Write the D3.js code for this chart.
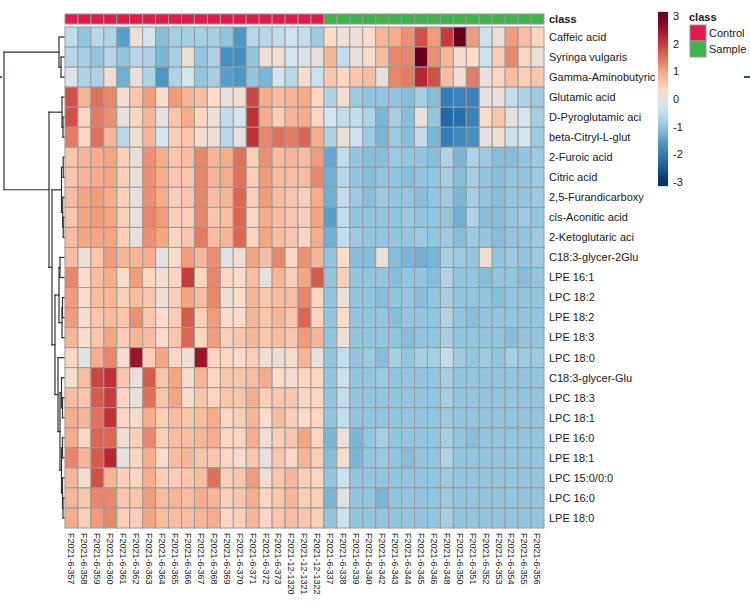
<!DOCTYPE html>
<html>
<head>
<meta charset="utf-8">
<title>Heatmap</title>
<script src="https://d3js.org/d3.v7.min.js"></script>
<style>
  body { margin: 0; background: white; }
  text { font-family: "Liberation Sans", Arial, sans-serif; fill: #1a1a1a; }
</style>
</head>
<body>
<div id="plot"></div>
<script>
// rows (metabolites) in dendrogram order
var rowNames = ['Caffeic acid','Syringa vulgaris','Gamma-Aminobutyric','Glutamic acid','D-Pyroglutamic aci',
  'beta-Citryl-L-glut','2-Furoic acid','Citric acid','2,5-Furandicarboxy','cis-Aconitic acid',
  '2-Ketoglutaric aci','C18:3-glycer-2Glu','LPE 16:1','LPC 18:2','LPE 18:2','LPE 18:3','LPC 18:0',
  'C18:3-glycer-Glu','LPC 18:3','LPC 18:1','LPE 16:0','LPE 18:1','LPC 15:0/0:0','LPC 16:0','LPE 18:0']

var colNames = ['F2021-6-357','F2021-6-358','F2021-6-359','F2021-6-360','F2021-6-361','F2021-6-362',
  'F2021-6-363','F2021-6-364','F2021-6-365','F2021-6-366','F2021-6-367','F2021-6-368','F2021-6-369',
  'F2021-6-370','F2021-6-371','F2021-6-372','F2021-6-373','F2021-12-1320','F2021-12-1321','F2021-12-1322',
  'F2021-6-337','F2021-6-338','F2021-6-339','F2021-6-340','F2021-6-342','F2021-6-343','F2021-6-344',
  'F2021-6-345','F2021-6-346','F2021-6-348','F2021-6-350','F2021-6-351','F2021-6-352','F2021-6-353',
  'F2021-6-354','F2021-6-355','F2021-6-356']

var colClass = ['Control','Control','Control','Control','Control','Control','Control','Control','Control','Control',
  'Control','Control','Control','Control','Control','Control','Control','Control','Control','Control',
  'Sample','Sample','Sample','Sample','Sample','Sample','Sample','Sample','Sample','Sample',
  'Sample','Sample','Sample','Sample','Sample','Sample','Sample']

var classNames = ['Control','Sample']
var classColors = ['#E5194B','#3BB44A']

// scaled values, one row per metabolite
var zscores = [
  [-0.5,-1.0,-0.6,-0.7,-1.5, 0.1,-0.3,-1.1,-0.8,-0.8, -0.8,-0.8,-1.0,-1.6,-0.6, -0.6,-0.5,-0.35,-0.5,-0.9, 0.3,0.1,0.1,0.3,0.8, 0.9,1.2,1.8,1.1,2.0, 3.0,1.1,-0.4,0.05,1.1, 0.7,0.4],
  [-0.6,-0.8,-1.0,-0.6,-1.0, -0.6,-0.7,-1.2,-0.8,0.1, -1.0,-0.7,-1.7,-1.7,-1.0, 0.1,0.2,-0.3,-0.2,0.0, 0.8,-0.5,0.05,0.3,0.7, 1.3,1.3,3.0,1.2,0.8, 0.2,0.3,-0.4,0.5,1.3, 0.4,0.1],
  [-0.2,-0.7,-0.7,0.15,-1.3, 0.05,-0.7,-1.6,-0.7,-0.3, -1.0,-0.8,-1.5,-1.6,-1.0, -1.2,-0.3,-0.6,0.2,-0.4, 0.6,0.4,0.6,0.7,0.0, 1.3,1.4,2.2,1.8,0.7, 0.15,1.4,0.0,0.4,0.7, 0.5,0.6],
  [1.8,0.8,1.5,1.3,0.2, 0.6,1.1,0.3,1.1,0.8, 0.7,0.3,0.05,0.2,1.9, 0.9,0.7,0.8,0.9,0.4, -0.7,0.2,-0.9,-1.0,-1.0, -1.0,-1.1,-0.8,-1.1,-2.0, -1.9,-1.9,-0.05,0.0,-0.5, -0.7,-0.9],
  [1.8,0.4,1.4,1.2,0.0, 0.4,0.8,-0.05,0.6,0.9, 0.4,0.1,-0.5,-0.3,2.1, 0.9,0.5,0.8,0.9,0.4, -0.3,-0.5,-0.5,-0.7,-1.2, -0.8,-1.1,0.0,-1.0,-2.3, -2.2,-1.9,0.3,0.6,0.0, -0.3,-0.8],
  [1.4,0.4,1.5,0.8,-0.6, 0.1,0.8,-0.3,0.5,0.6, 0.2,0.1,-0.6,0.0,2.1, 1.3,1.5,1.4,1.6,0.9, -0.7,0.05,-0.4,-0.9,-1.2, -0.9,-1.1,-0.5,-1.2,-2.0, -1.8,-1.7,-0.05,0.1,-0.4, -0.3,-0.9],
  [0.6,0.8,0.9,1.0,0.5, 0.05,1.2,0.9,0.6,0.7, 1.3,0.8,0.9,1.5,0.5, 1.2,0.7,0.8,0.7,1.1, -1.4,-0.5,-1.0,-1.1,-1.1, -0.9,-1.0,-1.0,-1.1,-0.7, -1.2,-0.7,-0.9,-1.1,-1.1, -1.0,-0.9],
  [0.6,0.8,0.9,1.0,0.5, 0.05,1.2,0.9,0.6,0.6, 1.3,0.8,0.9,1.5,0.5, 1.1,0.7,0.7,0.7,1.3, -1.3,-0.6,-1.0,-1.1,-1.0, -1.0,-1.1,-1.0,-1.0,-0.8, -1.1,-0.8,-1.0,-1.1,-1.0, -1.0,-0.9],
  [0.7,1.0,1.1,0.9,0.5, 0.0,1.2,0.9,0.5,0.6, 1.3,0.7,0.8,1.6,0.5, 1.1,0.7,0.6,0.5,0.9, -1.3,-0.5,-0.9,-1.1,-0.9, -1.0,-1.0,-1.1,-1.0,-0.9, -1.2,-0.8,-1.0,-1.1,-1.0, -1.0,-0.9],
  [0.6,1.0,1.1,1.0,0.5, 0.0,1.3,1.1,0.5,0.5, 1.3,0.6,0.7,1.6,0.4, 0.9,0.7,0.6,0.5,1.0, -1.5,-0.5,-1.0,-1.0,-1.0, -1.0,-0.9,-1.0,-1.0,-1.0, -1.3,-0.7,-1.1,-1.1,-1.0, -0.9,-1.0],
  [0.7,1.0,1.0,1.0,0.5, 0.0,1.2,1.0,0.4,0.6, 1.4,0.7,0.8,1.6,0.4, 1.0,0.7,0.6,0.4,0.9, -1.3,-0.5,-0.9,-1.0,-1.0, -1.0,-1.0,-0.9,-1.0,-0.9, -1.1,-0.9,-1.0,-1.1,-1.0, -1.0,-0.9],
  [0.7,0.1,0.6,1.1,0.8, 0.8,0.9,-0.1,0.3,1.1, 0.8,1.2,-0.1,0.15,1.0, 0.7,1.3,0.4,1.2,0.8, -1.0,0.3,-1.1,-1.1,0.0, -1.1,-1.2,-1.3,-1.2,-0.8, -0.9,-1.0,0.1,-1.0,-0.9, -1.0,-0.9],
  [1.3,0.3,0.7,0.9,0.3, 1.1,0.4,0.2,0.4,2.0, 0.4,1.3,0.4,0.3,0.7, -0.05,0.8,0.5,1.0,1.7, -1.0,0.5,-1.0,-1.0,-1.0, -1.1,-1.0,-1.0,-1.1,-0.7, -1.0,-1.0,-1.1,-1.0,-1.0, -1.1,-1.0],
  [1.1,0.3,0.7,0.8,0.5, 0.7,0.6,0.15,0.5,1.0, 0.7,1.3,0.1,0.3,0.8, 0.6,0.7,0.7,1.3,0.4, -1.0,0.0,-1.0,-1.0,-1.1, -1.0,-1.0,-1.1,-1.0,-0.8, -1.0,-1.0,-1.0,-1.1,-1.0, -1.0,-1.0],
  [1.1,0.2,0.6,0.7,0.6, 1.2,0.6,0.3,0.5,1.7, 0.5,1.1,0.3,0.3,0.8, 0.6,0.8,0.6,1.6,0.4, -1.0,0.3,-1.0,-1.0,-1.0, -1.1,-1.0,-1.0,-1.0,-0.7, -1.0,-1.1,-1.0,-1.0,-1.0, -1.0,-1.0],
  [0.8,0.3,0.6,1.0,0.5, 0.8,0.7,0.3,0.6,1.6, 0.4,1.1,0.5,0.6,0.8, 0.6,0.7,0.6,1.1,0.8, -1.0,0.1,-1.0,-1.0,-1.0, -1.0,-1.1,-1.0,-1.0,-0.8, -1.0,-1.0,-1.0,-1.0,-1.1, -1.0,-1.0],
  [0.4,-0.05,0.9,1.3,0.2, 2.5,0.5,1.0,0.4,0.15, 2.5,0.4,0.4,0.3,0.5, 0.1,0.05,0.3,0.8,0.0, -1.0,-0.5,-1.0,-0.9,-1.1, -0.8,-1.0,-0.8,-0.8,-0.5, -0.9,-1.0,-0.9,-1.0,-0.8, -0.9,-0.9],
  [0.2,0.7,1.9,2.1,0.6, 0.0,1.7,0.6,1.0,0.2, 0.8,0.4,0.6,0.6,0.7, 0.9,0.3,0.2,0.4,0.4, -1.0,-0.4,-1.0,-1.0,-0.9, -1.0,-1.0,-1.0,-1.0,-0.8, -1.0,-1.0,-1.0,-1.0,-1.0, -1.0,-1.0],
  [0.7,0.6,1.7,2.0,0.4, 0.0,1.5,0.6,1.0,0.3, 0.6,0.4,0.6,0.6,0.9, 0.5,0.6,0.6,0.4,0.4, -1.0,-0.5,-1.0,-1.0,-1.0, -1.0,-1.0,-1.0,-1.0,-0.8, -1.0,-1.0,-1.0,-1.0,-1.0, -1.0,-1.0],
  [0.9,0.8,1.5,2.1,0.4, 0.2,0.9,0.5,0.7,0.6, 0.7,0.9,0.4,0.5,0.8, 0.3,0.7,0.5,0.3,0.4, -1.0,-0.5,-1.0,-1.0,-1.0, -1.0,-1.0,-1.0,-1.0,-0.9, -1.0,-1.0,-1.0,-1.0,-1.0, -1.0,-1.0],
  [0.9,0.4,1.6,1.6,0.15, 0.5,1.3,0.5,0.7,0.7, 0.8,0.9,0.4,0.4,0.9, 0.15,0.5,0.6,1.0,0.4, -1.2,0.0,-1.2,-1.0,-0.8, -1.0,-1.0,-1.0,-1.0,-0.8, -1.0,-1.1,-1.0,-1.0,-1.0, -1.0,-1.0],
  [1.3,0.8,1.7,2.2,0.0, 0.4,0.9,0.3,0.7,0.8, 0.6,0.6,0.4,0.2,0.6, -0.05,0.6,0.4,0.8,0.5, -1.1,0.2,-1.2,-1.0,-0.9, -1.0,-1.1,-1.0,-1.0,-0.7, -1.0,-1.0,-1.0,-1.0,-1.0, -1.0,-1.0],
  [0.8,0.2,1.8,0.8,0.5, 0.4,0.9,0.5,0.5,0.6, 0.7,1.5,0.5,0.6,1.1, 0.2,0.6,0.8,0.5,0.4, -1.0,-0.4,-1.0,-1.0,-1.0, -1.0,-1.0,-1.0,-1.0,-0.9, -1.0,-1.0,-1.0,-1.0,-1.0, -1.0,-1.0],
  [0.8,0.6,1.3,1.3,0.6, 0.6,1.1,0.7,0.8,0.7, 0.9,0.8,0.5,0.6,0.9, 0.4,0.6,0.8,0.5,0.5, -1.2,-0.1,-1.0,-1.0,-1.2, -1.0,-1.0,-1.0,-1.0,-0.9, -1.0,-1.0,-1.0,-1.0,-1.0, -1.0,-1.0],
  [0.9,0.5,1.1,1.3,0.5, 0.5,1.0,0.7,0.7,0.7, 0.8,0.9,0.4,0.5,0.8, 0.4,0.6,0.7,0.6,0.5, -1.0,-0.4,-1.0,-1.0,-1.0, -1.0,-1.0,-1.0,-1.0,-0.8, -1.0,-1.0,-1.0,-1.0,-1.0, -1.0,-1.0]
]

// row dendrogram: [mergeHeight, left, right], leaves are row indexes
var rowTree = [60,
  [5, 0, [3, 1, 2]],
  [15,
    [2, 3, [1, 4, 5]],
    [12,
      [2.5, [0.8, 6, 7], [1.3, 8, [0.8, 9, 10]]],
      [9,
        [5, [4, 11, 12], [2, [1.5, 13, 14], 15]],
        [6, 16, [4, [2.5, 17, [1.5, 18, 19]], [2.5, [1.5, 20, 21], [1.5, 22, [1, 23, 24]]]]]
      ]
    ]
  ]
]

var legendTicks = [3, 2, 1, 0, -1, -2, -3]

var W = 750, H = 608

var svg = d3.select('#plot').append('svg')
  .attr('width', W)
  .attr('height', H)
svg.append('rect').attr('width', W).attr('height', H).attr('fill', 'white')

var rdbu = ['#053061','#2166AC','#4393C3','#92C5DE','#D1E5F0','#FDDBC7','#F4A582','#D6604D','#B2182B','#67001F']
var color = d3.scaleLinear()
  .domain(d3.range(10).map(function(i){ return -3 + i * 6 / 9 }))
  .range(rdbu)
  .clamp(true)

var xScale = d3.scaleBand().domain(d3.range(colNames.length)).range([65, 544])
var yScale = d3.scaleBand().domain(d3.range(rowNames.length)).range([27, 528])

// heatmap cells
var cells = []
zscores.forEach(function(row, r){
  row.forEach(function(v, c){ cells.push({r: r, c: c, v: v}) })
})

svg.append('g').selectAll('rect')
  .data(cells)
  .enter()
  .append('rect')
    .attr('x', function(d){ return xScale(d.c) })
    .attr('y', function(d){ return yScale(d.r) })
    .attr('width', xScale.bandwidth())
    .attr('height', yScale.bandwidth())
    .attr('fill', function(d){ return color(d.v) })
    .attr('stroke', '#9a9a9a')
    .attr('stroke-width', 1)

// class annotation bar
var classColor = d3.scaleOrdinal().domain(classNames).range(classColors)

svg.append('g').selectAll('rect')
  .data(colClass)
  .enter()
  .append('rect')
    .attr('x', function(d, i){ return xScale(i) })
    .attr('y', 14)
    .attr('width', xScale.bandwidth())
    .attr('height', 10)
    .attr('fill', function(d){ return classColor(d) })
    .attr('stroke', '#9a9a9a')
    .attr('stroke-width', 1)

svg.append('text')
  .attr('x', 549).attr('y', 19).attr('dy', '0.35em')
  .style('font-size', '11px').style('font-weight', 'bold')
  .text('class')

// row labels
svg.append('g').selectAll('text')
  .data(rowNames)
  .enter()
  .append('text')
    .attr('x', 549)
    .attr('y', function(d, i){ return yScale(i) + yScale.bandwidth() / 2 })
    .attr('dy', '0.35em')
    .style('font-size', '11px')
    .text(function(d){ return d })

// column labels, rotated to read top-down
svg.append('g').selectAll('text')
  .data(colNames)
  .enter()
  .append('text')
    .attr('transform', function(d, i){
      return 'translate(' + (xScale(i) + xScale.bandwidth() / 2) + ',533) rotate(90)'
    })
    .attr('dy', '0.35em')
    .style('font-size', '9px')
    .text(function(d){ return d })

// dendrogram
var root = d3.hierarchy(rowTree, function(d){
  return Array.isArray(d) ? [d[1], d[2]] : null
})
var hScale = d3.scaleLinear().domain([0, rowTree[0]]).range([64, 4])

root.eachAfter(function(n){
  if (n.children) {
    n.h = n.data[0]
    n.py = (n.children[0].py + n.children[1].py) / 2
  } else {
    n.h = 0
    n.py = yScale(n.data) + yScale.bandwidth() / 2
  }
})

var segs = []
root.each(function(n){
  if (!n.children) return
  var x0 = hScale(n.h)
  segs.push([x0, n.children[0].py, x0, n.children[1].py])
  n.children.forEach(function(ch){
    segs.push([x0, ch.py, hScale(ch.h), ch.py])
  })
})

svg.append('g').selectAll('line')
  .data(segs)
  .enter()
  .append('line')
    .attr('x1', function(d){ return d[0] })
    .attr('y1', function(d){ return d[1] })
    .attr('x2', function(d){ return d[2] })
    .attr('y2', function(d){ return d[3] })
    .attr('stroke', '#333')
    .attr('stroke-width', 1.2)
    .attr('stroke-linecap', 'square')

// colour key
var keyScale = d3.scaleLinear().domain([-3, 3]).range([182, 16])
var defs = svg.append('defs')
var grad = defs.append('linearGradient')
  .attr('id', 'keygrad')
  .attr('x1', 0).attr('y1', 1).attr('x2', 0).attr('y2', 0)
d3.range(0, 1.0001, 0.05).forEach(function(t){
  grad.append('stop')
    .attr('offset', t)
    .attr('stop-color', color(-3.15 + t * 6.3))
})
svg.append('rect')
  .attr('x', 658)
  .attr('y', keyScale(3.15))
  .attr('width', 10)
  .attr('height', keyScale(-3.15) - keyScale(3.15))
  .attr('fill', 'url(#keygrad)')

svg.append('g').selectAll('text')
  .data(legendTicks)
  .enter()
  .append('text')
    .attr('x', 673)
    .attr('y', function(d){ return keyScale(d) })
    .attr('dy', '0.35em')
    .style('font-size', '11px')
    .text(function(d){ return d })

// class legend
svg.append('text')
  .attr('x', 689).attr('y', 17).attr('dy', '0.35em')
  .style('font-size', '11px').style('font-weight', 'bold')
  .text('class')

var leg = svg.append('g').selectAll('g')
  .data(classNames)
  .enter()
  .append('g')
leg.append('rect')
  .attr('x', 690)
  .attr('y', function(d, i){ return 25 + i * 16 })
  .attr('width', 16)
  .attr('height', 16)
  .attr('fill', function(d){ return classColor(d) })
  .attr('stroke', '#9a9a9a')
leg.append('text')
  .attr('x', 709)
  .attr('y', function(d, i){ return 33 + i * 16 })
  .attr('dy', '0.35em')
  .style('font-size', '11px')
  .text(function(d){ return d })

// small blue edge marks seen in the capture
svg.append('line').attr('x1', 0).attr('x2', 2).attr('y1', 77).attr('y2', 77)
  .attr('stroke', '#2a6bb5').attr('stroke-width', 2)
svg.append('line').attr('x1', 744).attr('x2', 750).attr('y1', 77).attr('y2', 77)
  .attr('stroke', '#2a4a8a').attr('stroke-width', 2)
</script>
</body>
</html>
